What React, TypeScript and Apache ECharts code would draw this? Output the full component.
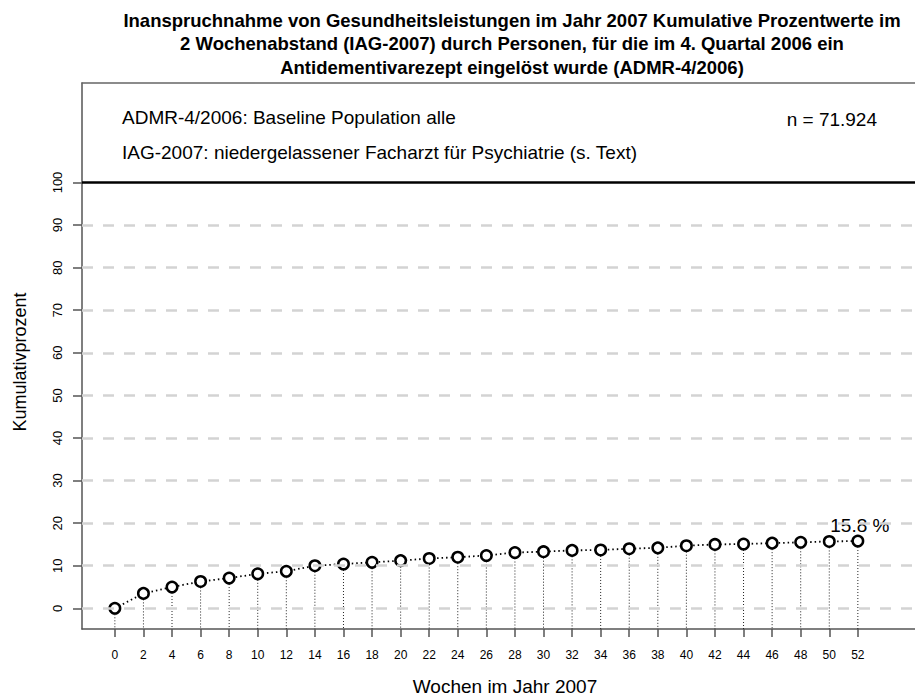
import React, { useEffect, useRef } from "react";
import * as echarts from "echarts";

const weeks = [0, 2, 4, 6, 8, 10, 12, 14, 16, 18, 20, 22, 24, 26, 28, 30, 32, 34, 36, 38, 40, 42, 44, 46, 48, 50, 52];
const cumPercent = [0, 3.5, 5.0, 6.3, 7.1, 8.1, 8.7, 10.0, 10.4, 10.8, 11.2, 11.7, 12.0, 12.4, 13.1, 13.3, 13.6, 13.7, 14.0, 14.2, 14.7, 15.0, 15.1, 15.3, 15.5, 15.7, 15.8];
const xTicks = weeks;
const yTicks = [0, 10, 20, 30, 40, 50, 60, 70, 80, 90, 100];
const dashedGrid = [0, 10, 20, 30, 40, 50, 60, 70, 80, 90];
const refLine = 100;

const titleLines = [
  "Inanspruchnahme von Gesundheitsleistungen im Jahr 2007 Kumulative Prozentwerte im",
  "2 Wochenabstand (IAG-2007) durch Personen, für die im 4. Quartal 2006 ein",
  "Antidementivarezept eingelöst wurde (ADMR-4/2006)",
];
const infoLine1 = "ADMR-4/2006: Baseline Population alle";
const infoLine2 = "IAG-2007: niedergelassener Facharzt für Psychiatrie (s. Text)";
const nText = "n = 71.924";
const xTitle = "Wochen im Jahr 2007";
const yTitle = "Kumulativprozent";

const X_MIN = -2.3;
const X_MAX = 56.0;
const Y_MIN = -4.86;
const Y_MAX = 123.37;

const FONT = "Liberation Sans, Arial, Helvetica, sans-serif";

export default function App() {
  const ref = useRef<HTMLDivElement>(null);
  useEffect(() => {
    if (!ref.current) return;
    const chart = echarts.init(ref.current, null, { renderer: "svg" });
    const data = weeks.map((w, i) => [w, cumPercent[i]]);
    const last = cumPercent[cumPercent.length - 1];
    const lineData = data.map((d, i) =>
      i === data.length - 1
        ? {
            value: d,
            label: {
              show: true,
              position: "top",
              distance: 0,
              offset: [2, 0],
              formatter: `${last} %`,
              fontSize: 19,
              fontFamily: FONT,
              color: "#000",
            },
          }
        : { value: d }
    );

    const option: any = {
      animation: false,
      backgroundColor: "#fff",
      grid: { left: 82, top: 83, right: 0, bottom: 70, containLabel: false },
      xAxis: [
        {
          type: "value",
          min: X_MIN,
          max: X_MAX,
          axisLine: { show: true, onZero: false, lineStyle: { color: "#555", width: 1.5 } },
          axisTick: { show: true, length: 8, customValues: xTicks, lineStyle: { color: "#555", width: 1.5 } },
          axisLabel: {
            show: true,
            customValues: xTicks,
            margin: 20,
            fontSize: 12,
            fontFamily: FONT,
            color: "#000",
          },
          splitLine: { show: false },
        },
        {
          type: "value",
          position: "top",
          min: X_MIN,
          max: X_MAX,
          axisLine: { show: true, onZero: false, lineStyle: { color: "#666", width: 1.5 } },
          axisTick: { show: false },
          axisLabel: { show: false },
          splitLine: { show: false },
        },
      ],
      yAxis: {
        type: "value",
        min: Y_MIN,
        max: Y_MAX,
        axisLine: { show: true, onZero: false, lineStyle: { color: "#555", width: 1.5 } },
        axisTick: { show: true, length: 9, customValues: yTicks, lineStyle: { color: "#555", width: 1.5 } },
        axisLabel: {
          show: true,
          customValues: yTicks,
          rotate: 90,
          margin: 18,
          fontSize: 13,
          fontFamily: FONT,
          color: "#000",
        },
        splitLine: { show: false },
      },
      series: [
        {
          type: "line",
          data: data,
          z: 1,
          symbol: "none",
          silent: true,
          lineStyle: { opacity: 0 },
          markLine: {
            silent: true,
            symbol: ["none", "none"],
            label: { show: false },
            data: [
              ...dashedGrid.map((v) => ({
                yAxis: v,
                lineStyle: { color: "#d3d3d3", width: 2.5, type: [11, 10] },
              })),
              { yAxis: refLine, lineStyle: { color: "#000", width: 2.5, type: "solid" } },
            ],
          },
        },
        {
          type: "custom",
          z: 2,
          silent: true,
          data: data,
          renderItem: (params: any, api: any) => {
            const x = api.value(0);
            const y = api.value(1);
            const p1 = api.coord([x, y]);
            const p0 = api.coord([x, Y_MIN]);
            return {
              type: "line",
              shape: { x1: p1[0], y1: p1[1], x2: p0[0], y2: p0[1] },
              style: { stroke: "#222", lineWidth: 1, lineDash: [1, 2] },
            };
          },
        },
        {
          type: "line",
          z: 3,
          data: lineData,
          symbol: "circle",
          symbolSize: 10.5,
          showSymbol: true,
          lineStyle: { color: "#000", width: 1.8, type: [1.5, 3] },
          itemStyle: { color: "#fff", borderColor: "#000", borderWidth: 2.5 },
        },
      ],
      graphic: [
        ...titleLines.map((t, i) => ({
          type: "text",
          x: 512,
          y: 20 + i * 23.5,
          style: {
            text: t,
            font: `bold 18.5px ${FONT}`,
            fill: "#000",
            align: "center",
            verticalAlign: "middle",
            textAlign: "center",
            textVerticalAlign: "middle",
          },
        })),
        {
          type: "text",
          x: 122,
          y: 117,
          style: { text: infoLine1, font: `19px ${FONT}`, fill: "#000", align: "left", verticalAlign: "middle", textAlign: "left", textVerticalAlign: "middle" },
        },
        {
          type: "text",
          x: 122,
          y: 152,
          style: { text: infoLine2, font: `19px ${FONT}`, fill: "#000", align: "left", verticalAlign: "middle", textAlign: "left", textVerticalAlign: "middle" },
        },
        {
          type: "text",
          x: 877,
          y: 119,
          style: { text: nText, font: `19px ${FONT}`, fill: "#000", align: "right", verticalAlign: "middle", textAlign: "right", textVerticalAlign: "middle" },
        },
        {
          type: "text",
          x: 505,
          y: 686,
          style: { text: xTitle, font: `19px ${FONT}`, fill: "#000", align: "center", verticalAlign: "middle", textAlign: "center", textVerticalAlign: "middle" },
        },
        {
          type: "text",
          x: 20,
          y: 362,
          rotation: Math.PI / 2,
          style: { text: yTitle, font: `18px ${FONT}`, fill: "#000", align: "center", verticalAlign: "middle", textAlign: "center", textVerticalAlign: "middle" },
        },
      ],
    };
    chart.setOption(option);
    return () => chart.dispose();
  }, []);
  return <div ref={ref} style={{ position: "fixed", left: 0, top: 0, width: 915, height: 699 }} />;
}
